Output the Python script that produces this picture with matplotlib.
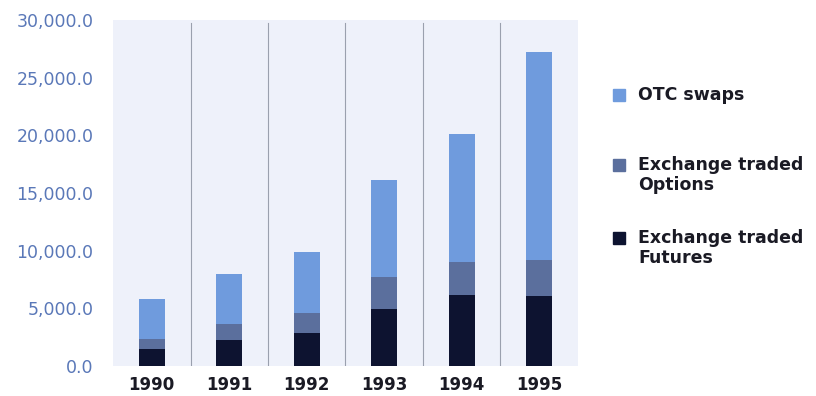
import matplotlib
matplotlib.use("Agg")
import matplotlib.pyplot as plt
from matplotlib.patches import Rectangle
from matplotlib.ticker import FuncFormatter

years = ["1990", "1991", "1992", "1993", "1994", "1995"]
futures = [1470, 2250, 2860, 4940, 6150, 6070]
options = [870, 1390, 1740, 2780, 2870, 3120]
otc_swaps = [3460, 4340, 5280, 8410, 11090, 18030]

series_labels = ["OTC swaps", "Exchange traded\nOptions", "Exchange traded\nFutures"]
colors = {"otc": "#6F9BDD", "opt": "#5B6F9D", "fut": "#0D1330"}

plt.rcParams["font.family"] = ["DejaVu Sans"]

W, H = 816, 396
fig = plt.figure(figsize=(W / 100, H / 100), dpi=100)
ax = fig.add_axes([113 / W, 1 - 366 / H, 465 / W, 346 / H])
ax.set_facecolor("#EEF1FA")

x = list(range(len(years)))
w = 0.33
ax.bar(x, futures, w, color=colors["fut"], zorder=3)
ax.bar(x, options, w, bottom=futures, color=colors["opt"], zorder=3)
base = [f + o for f, o in zip(futures, options)]
ax.bar(x, otc_swaps, w, bottom=base, color=colors["otc"], zorder=3)

ax.set_xlim(-0.5, len(years) - 0.5)
ax.set_ylim(0, 30000)
ax.set_yticks(range(0, 30001, 5000))
ax.yaxis.set_major_formatter(FuncFormatter(lambda v, p: f"{v:,.1f}"))
ax.set_xticks(x)
ax.set_xticklabels(years)

for xv in [i + 0.5 for i in range(len(years) - 1)]:
    ax.axvline(xv, ymin=0, ymax=0.99, color="#9AA0AE", lw=0.8, zorder=1)

for s in ax.spines.values():
    s.set_visible(False)
ax.tick_params(axis="both", length=0)
ax.tick_params(axis="y", labelsize=12.5, labelcolor="#5A78B8", pad=14)
ax.tick_params(axis="x", labelsize=12, labelcolor="#1A1A24", pad=7)
for t in ax.get_xticklabels():
    t.set_fontweight("bold")

# legend drawn by hand: square swatch beside the first line of each label
legend_rows = [(95, colors["otc"]), (165, colors["opt"]), (238, colors["fut"])]
for (ypx, col), label in zip(legend_rows, series_labels):
    fig.add_artist(Rectangle((613 / W, 1 - (ypx + 6) / H), 12 / W, 12 / H,
                             transform=fig.transFigure, color=col))
    fig.text(638 / W, 1 - (ypx - 9) / H, label, ha="left", va="top",
             fontsize=12.5, fontweight="bold", color="#1A1A24", linespacing=1.15)

fig.savefig("out.png", dpi=100, facecolor="white")
